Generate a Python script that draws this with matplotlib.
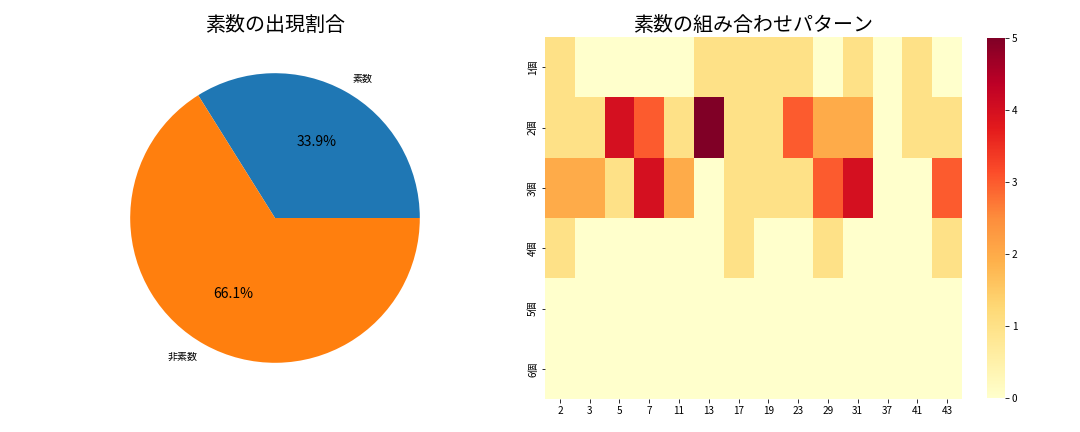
import matplotlib
matplotlib.use('Agg')
import matplotlib.pyplot as plt
import numpy as np
import seaborn as sns

plt.rcParams['font.family'] = ['Noto Sans CJK JP', 'DejaVu Sans']

# 円グラフのデータ
pie_labels = ['素数', '非素数']
pie_values = [33.9, 66.1]

# ヒートマップのデータ
primes = [2, 3, 5, 7, 11, 13, 17, 19, 23, 29, 31, 37, 41, 43]
count_labels = ['1個', '2個', '3個', '4個', '5個', '6個']
row1 = [1, 0, 0, 0, 0, 1, 1, 1, 1, 0, 1, 0, 1, 0]
row2 = [1, 1, 4, 3, 1, 5, 1, 1, 3, 2, 2, 0, 1, 1]
row3 = [2, 2, 1, 4, 2, 0, 1, 1, 1, 3, 4, 0, 0, 3]
row4 = [1, 0, 0, 0, 0, 0, 1, 0, 0, 1, 0, 0, 0, 1]
row5 = [0] * 14
row6 = [0] * 14

matrix = np.array([row1, row2, row3, row4, row5, row6])

fig, (ax1, ax2) = plt.subplots(1, 2, figsize=(15, 6), dpi=72)

# 円グラフ
ax1.pie(pie_values, labels=pie_labels, autopct='%1.1f%%',
        textprops={'fontsize': 10})
for t in ax1.texts:
    if '%' in t.get_text():
        t.set_fontsize(14)
ax1.set_title('素数の出現割合', fontsize=20)

# ヒートマップ
sns.heatmap(matrix, cmap='YlOrRd', ax=ax2,
            xticklabels=primes, yticklabels=count_labels)
ax2.set_yticklabels(count_labels, rotation=90, va='center')
ax2.set_title('素数の組み合わせパターン', fontsize=20)
ax2.tick_params(labelsize=10)
cbar_ax = fig.axes[-1]
cbar_ax.tick_params(labelsize=10)

plt.tight_layout()

# 位置の微調整
W, H = 1080, 432
ax1.set_position([75 / W, 33 / H, 400 / W, 362 / H])
ax2.set_position([545 / W, (H - 399) / H, 417 / W, 362 / H])
cbar_ax.set_position([987 / W, (H - 399) / H, 18 / W, 362 / H])

plt.savefig('out.png', dpi=72)
plt.close()
